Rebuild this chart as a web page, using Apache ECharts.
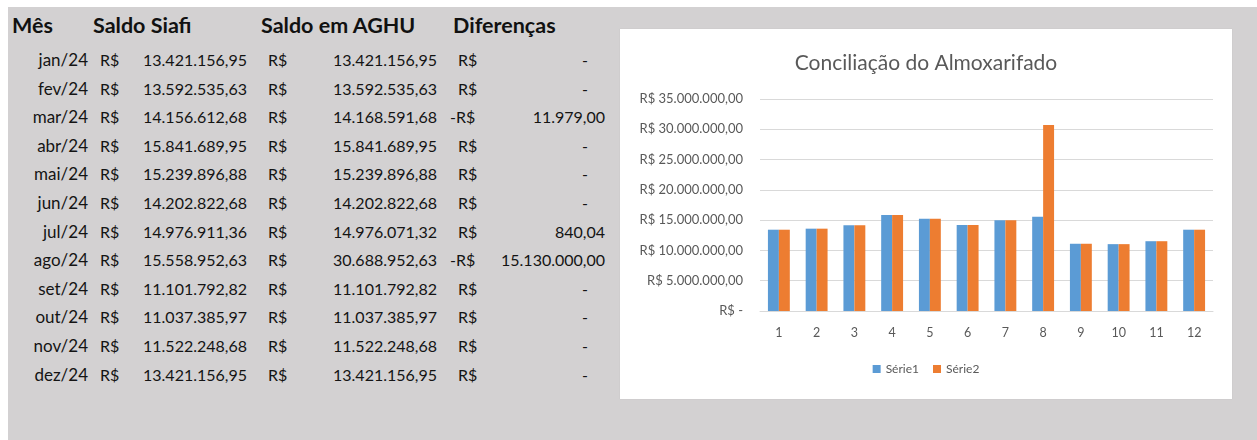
<!DOCTYPE html>
<html>
<head>
<meta charset="utf-8">
<script src="https://cdn.jsdelivr.net/npm/echarts/dist/echarts.min.js"></script>
<style>
  html, body { margin: 0; padding: 0; background: #fff; }
  #sheet { position: absolute; left: 8px; top: 7px; width: 1249px; height: 433px; background: #d3d1d2; }
  .cell { position: absolute; font-family: Lato, sans-serif; font-size: 16px; line-height: 20px; color: #141414; white-space: nowrap; }
  .month { font-size: 17px; }
  .head { font-weight: bold; font-size: 21.5px; line-height: 26px; color: #111; }
  #chart { position: absolute; left: 620px; top: 29px; width: 612px; height: 370px; background: #fff; box-shadow: 0 0 1px #bbb; }
</style>
</head>
<body>
<div id="sheet"></div>
<div id="table"></div>
<div id="chart"></div>
<script>
const headers = ['Mês', 'Saldo Siafi', 'Saldo em AGHU', 'Diferenças'];
const months = ['jan/24', 'fev/24', 'mar/24', 'abr/24', 'mai/24', 'jun/24', 'jul/24', 'ago/24', 'set/24', 'out/24', 'nov/24', 'dez/24'];
const saldoSiafi = [13421156.95, 13592535.63, 14156612.68, 15841689.95, 15239896.88, 14202822.68, 14976911.36, 15558952.63, 11101792.82, 11037385.97, 11522248.68, 13421156.95];
const saldoAghu = [13421156.95, 13592535.63, 14168591.68, 15841689.95, 15239896.88, 14202822.68, 14976071.32, 30688952.63, 11101792.82, 11037385.97, 11522248.68, 13421156.95];
const diferencas = [0, 0, -11979.00, 0, 0, 0, 840.04, -15130000.00, 0, 0, 0, 0];
const xLabels = ['1', '2', '3', '4', '5', '6', '7', '8', '9', '10', '11', '12'];
const seriesNames = ['Série1', 'Série2'];

// formato contábil pt-BR
function brl(v) {
  const parts = Math.abs(v).toFixed(2).split('.');
  return parts[0].replace(/\B(?=(\d{3})+(?!\d))/g, '.') + ',' + parts[1];
}

const table = document.getElementById('table');
function cell(text, x, y, align, cls) {
  const d = document.createElement('div');
  d.className = 'cell' + (cls ? ' ' + cls : '');
  d.textContent = text;
  if (align === 'right') d.style.right = (1257 - x) + 'px';
  else d.style.left = x + 'px';
  d.style.top = y + 'px';
  table.appendChild(d);
}

const headX = [12, 93, 261, 453];
headers.forEach((h, i) => cell(h, headX[i], 12, 'left', 'head'));

months.forEach((m, i) => {
  const y = 50 + i * 28.6;
  cell(m, 88, y, 'right', 'month');
  cell('R$', 100, y, 'left');
  cell(brl(saldoSiafi[i]), 247, y, 'right');
  cell('R$', 268, y, 'left');
  cell(brl(saldoAghu[i]), 437, y, 'right');
  cell((diferencas[i] < 0 ? '-' : '') + 'R$', diferencas[i] < 0 ? 450 : 458, y, 'left');
  if (diferencas[i] === 0) cell('-', 588, y, 'right');
  else cell(brl(diferencas[i]), 605, y, 'right');
});

const chart = echarts.init(document.getElementById('chart'));
chart.setOption({
  backgroundColor: '#fff',
  animation: false,
  color: ['#5b9bd5', '#ed7d31'],
  title: {
    text: 'Conciliação do Almoxarifado',
    left: 'center',
    top: 19,
    textStyle: { fontFamily: 'Lato, sans-serif', fontSize: 21, fontWeight: 'normal', color: '#595959' }
  },
  grid: { left: 140, right: 19, top: 70, bottom: 88, containLabel: false },
  legend: {
    data: seriesNames,
    bottom: 19,
    left: 'center',
    icon: 'rect',
    itemWidth: 8,
    itemHeight: 8,
    itemGap: 14,
    textStyle: { fontFamily: 'Lato, sans-serif', fontSize: 12, color: '#595959' }
  },
  xAxis: {
    type: 'category',
    data: xLabels,
    axisTick: { show: false },
    axisLine: { lineStyle: { color: '#d9d9d9' } },
    axisLabel: { fontFamily: 'Lato, sans-serif', fontSize: 12.5, color: '#595959', margin: 15 }
  },
  yAxis: {
    type: 'value',
    min: 0,
    max: 35000000,
    interval: 5000000,
    axisLine: { show: false },
    axisTick: { show: false },
    splitLine: { lineStyle: { color: '#d9d9d9' } },
    axisLabel: {
      fontFamily: 'Lato, sans-serif', fontSize: 13, color: '#595959', margin: 17,
      formatter: v => v === 0 ? 'R$ -' : 'R$ ' + brl(v)
    }
  },
  series: [
    { name: seriesNames[0], type: 'bar', data: saldoSiafi, barGap: 0, barCategoryGap: '42%' },
    { name: seriesNames[1], type: 'bar', data: saldoAghu, barGap: 0, barCategoryGap: '42%' }
  ]
});
</script>
</body>
</html>
